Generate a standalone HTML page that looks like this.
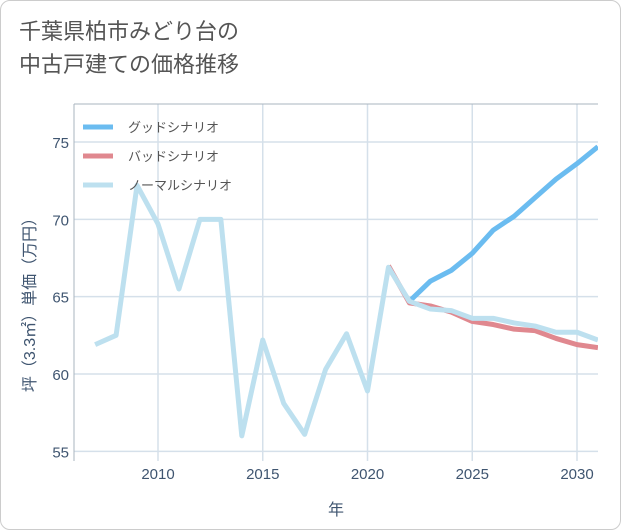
<!DOCTYPE html>
<html><head><meta charset="utf-8"><style>
body{margin:0;background:#fff;font-family:"Liberation Sans","Noto Sans CJK JP",sans-serif}
#card{position:absolute;left:0;top:0;width:619px;height:528px;border:1px solid #ccc;border-radius:10px;background:#fff}
#title{position:absolute;left:18px;top:14px;font-size:22px;line-height:33px;color:#555}
</style></head><body>
<div id="card">
<div id="title">千葉県柏市みどり台の<br>中古戸建ての価格推移</div>
<svg id="chart" width="621" height="530" style="position:absolute;left:0;top:0"></svg>
</div>
<script>
const years=[2007,2008,2009,2010,2011,2012,2013,2014,2015,2016,2017,2018,2019,2020,2021,2022,2023,2024,2025,2026,2027,2028,2029,2030,2031];
const normal=[61.9,62.5,72.2,69.7,65.5,70,70,56,62.2,58.1,56.1,60.3,62.6,58.9,66.9,64.7,64.2,64.1,63.6,63.6,63.3,63.1,62.7,62.7,62.2];
const goodYears=[2022,2023,2024,2025,2026,2027,2028,2029,2030,2031];
const good=[64.7,66.0,66.7,67.8,69.3,70.2,71.4,72.6,73.6,74.7];
const badYears=[2021,2022,2023,2024,2025,2026,2027,2028,2029,2030,2031];
const bad=[67.0,64.6,64.4,64.0,63.4,63.2,62.9,62.8,62.3,61.9,61.7];
const xTicks=[2010,2015,2020,2025,2030];
const yTicks=[55,60,65,70,75];
const NS="http://www.w3.org/2000/svg",svg=document.getElementById('chart');
const L=73,R=597,T=103,B=460;
const x=v=>157+(v-2010)*(576-157)/20;
const y=v=>373-(v-60)*(373-141)/15;
function mk(t,a,p){const e=document.createElementNS(NS,t);for(const k in a)e.setAttribute(k,a[k]);(p||svg).appendChild(e);return e;}
const clip=mk('clipPath',{id:'c'});mk('rect',{x:L,y:T,width:R-L,height:B-T},clip);
xTicks.forEach(t=>{const l=mk('line',{x1:x(t),x2:x(t),y1:T,y2:B,stroke:'#d5e0ea','stroke-width':1.5});

const s=mk('text',{x:x(t),y:B+18,'text-anchor':'middle','font-size':15,fill:'#3f5570'});s.textContent=t;
});
yTicks.forEach(t=>{const l=mk('line',{x1:L,x2:R,y1:y(t),y2:y(t),stroke:'#d5e0ea','stroke-width':1.5});

const s=mk('text',{x:L-5,y:y(t)+6,'text-anchor':'end','font-size':15,fill:'#3f5570'});s.textContent=t;
});
const ax=mk('path',{d:`M${L},${T}H${R}M${L},${T}V${B}`,stroke:'#aab4bf',fill:'none','stroke-width':1});

function line(xs,vs,c,name){const p=mk('polyline',{points:xs.map((a,i)=>x(a)+','+y(vs[i])).join(' '),fill:'none',stroke:c,'stroke-width':5,'stroke-linejoin':'round','clip-path':'url(#c)'});
}
line(goodYears,good,'#6bbcf0','good-scenario-line');
line(badYears,bad,'#e0888f','bad-scenario-line');
line(years,normal,'#bde0ef','normal-scenario-line');
const lg=[['グッドシナリオ','#6bbcf0'],['バッドシナリオ','#e0888f'],['ノーマルシナリオ','#bde0ef']];
lg.forEach((e,i)=>{const yy=126+i*29;
const r=mk('line',{x1:82,x2:112,y1:yy,y2:yy,stroke:e[1],'stroke-width':5});

const s=mk('text',{x:127,y:yy+5,'font-size':13,fill:'#555'});s.textContent=e[0];
});
const xt=mk('text',{x:335,y:514,'text-anchor':'middle','font-size':16,fill:'#3f5570'});xt.textContent='年';

const yt=mk('text',{x:0,y:0,'text-anchor':'middle','font-size':16,fill:'#3f5570',transform:'translate(34,300) rotate(-90)'});yt.textContent='坪（3.3㎡）単価（万円）';

</script>
</body></html>
